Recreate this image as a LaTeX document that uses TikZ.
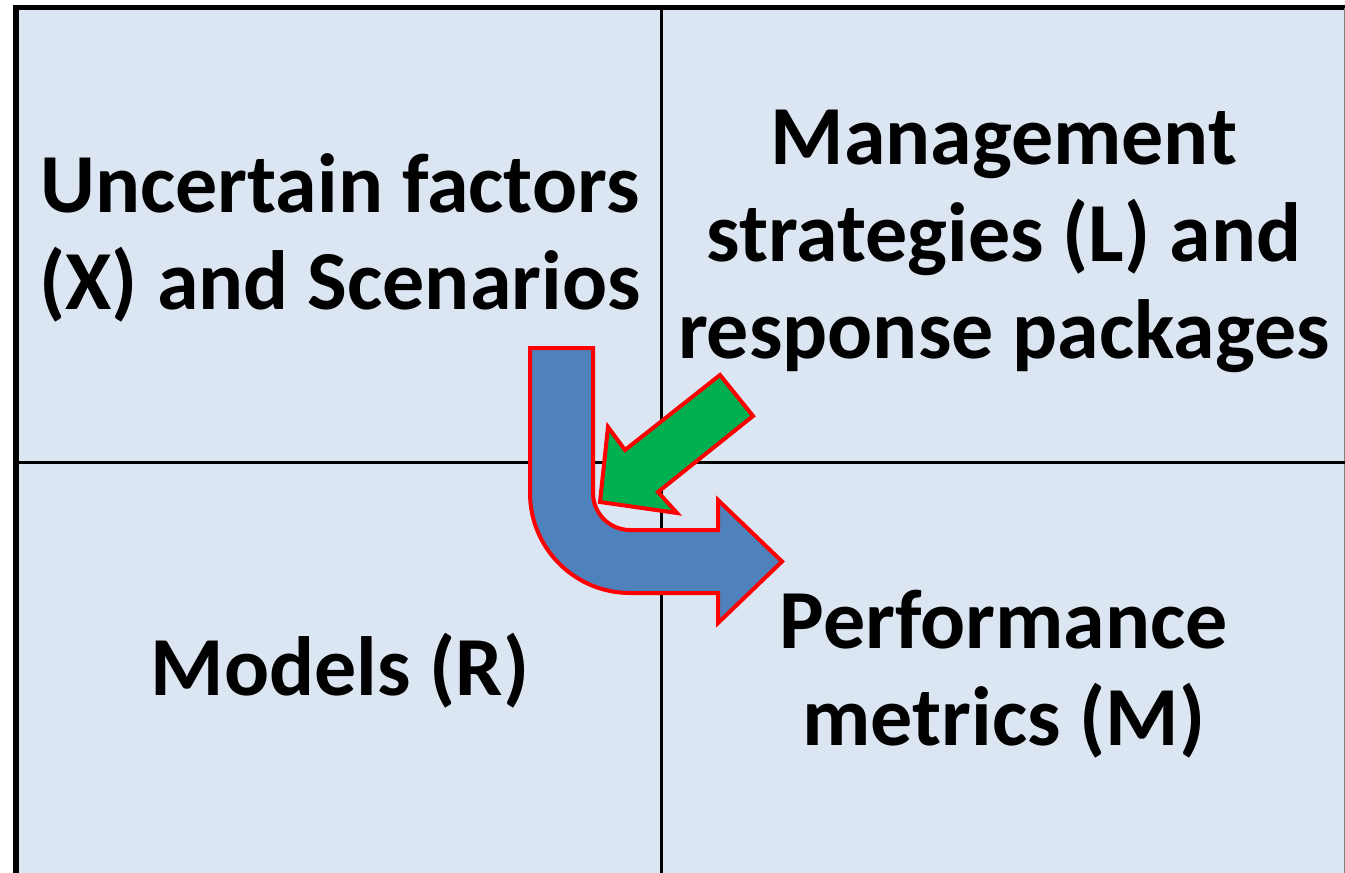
\documentclass[tikz,border=0pt]{standalone}
\usepackage{fontspec}
\setmainfont{Carlito}
\definecolor{cellfill}{HTML}{DCE6F2}
\definecolor{bluearrow}{HTML}{4F81BD}
\definecolor{greenarrow}{HTML}{00B050}
\begin{document}
\begin{tikzpicture}[x=1pt,y=-1pt,
  label/.style={font=\fontsize{84}{97}\selectfont\bfseries, align=center, inner sep=0pt, anchor=base},
  gridline/.style={draw=black, line width=3pt},
  shapearrow/.style={draw=red, line width=4pt, line join=miter}]
\useasboundingbox (0,0) rectangle (1345,873);
% background cells
\fill[cellfill] (16,7.5) rectangle (1350,880);
\draw[black, line width=5.5pt] (16,880) -- (16,7.5) -- (1350,7.5);
\draw[gray, line width=1.5pt] (1344.25,7.5) -- (1344.25,880);
\draw[gridline] (16,462) -- (1345,462);
\draw[gridline] (661,7.5) -- (661,873);
% texts (anchor = baseline of last line)
\node[label] (ux) at (340,309) {Uncertain factors\\(X) and Scenarios};
\node[label] (ml) at (1004,358) {Management\\strategies (L) and\\response packages};
\node[label] (mr) at (340,695) {Models (R)};
\node[label] (pm) at (1004,745) {Performance\\metrics (M)};
% blue bent arrow
\draw[shapearrow, fill=bluearrow]
  (530,348) -- (593,348) -- (593,493)
  .. controls (593,513.4) and (609.6,530) .. (630,530)
  -- (718,530) -- (718,500) -- (782,561.5) -- (718,623) -- (718,593) -- (630,593)
  .. controls (574.8,593) and (530,548.2) .. (530,493) -- cycle;
% green arrow
\draw[shapearrow, fill=greenarrow]
  (720,375) -- (753,416) -- (658,492) -- (677,513) -- (600,502) -- (608,427) -- (625,450) -- cycle;
\end{tikzpicture}
\end{document}
